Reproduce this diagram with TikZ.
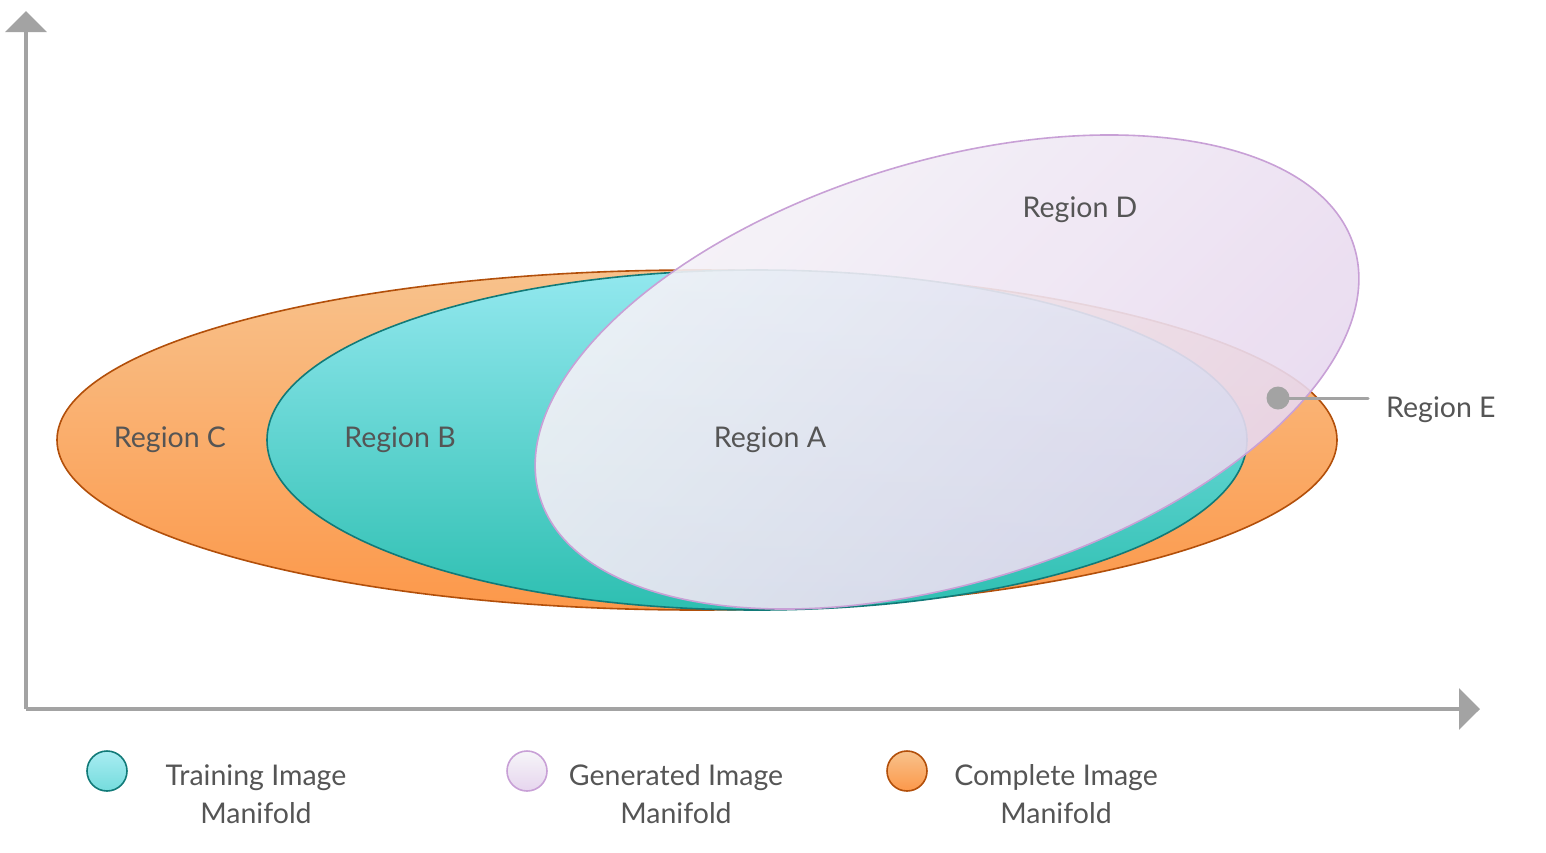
\documentclass[tikz,border=0pt]{standalone}
\usepackage{fontspec}
\setmainfont{Lato}
\usetikzlibrary{shapes.geometric,arrows.meta}
\definecolor{orTop}{HTML}{F8C28C}
\definecolor{orBot}{HTML}{FC984A}
\definecolor{orEdge}{HTML}{B24F0A}
\definecolor{tlTop}{HTML}{93E8EF}
\definecolor{tlBot}{HTML}{2DBFB1}
\definecolor{tlEdge}{HTML}{117A78}
\definecolor{lvA}{HTML}{F6F5F8}
\definecolor{lvB}{HTML}{E6D5EE}
\definecolor{lvEdge}{HTML}{C8A0D6}
\definecolor{axgray}{HTML}{A3A3A3}
\definecolor{txt}{HTML}{555555}
\tikzset{
  lbl/.style={text=txt, font=\fontsize{28.5}{38}\selectfont, inner sep=0pt},
  axisline/.style={draw=axgray, line width=3.5pt, -{Triangle[width=41pt,length=21pt]}},
  orangeset/.style={ellipse, draw=orEdge, line width=1.6pt, top color=orTop, bottom color=orBot, inner sep=0pt},
  tealset/.style={ellipse, draw=tlEdge, line width=1.6pt, top color=tlTop, bottom color=tlBot, inner sep=0pt},
  lavset/.style={ellipse, draw=lvEdge, line width=1.6pt, left color=lvA, right color=lvB, fill opacity=0.9, inner sep=0pt},
}
\begin{document}
\begin{tikzpicture}[x=1pt,y=-1pt]
\useasboundingbox (0,0) rectangle (1546,852);
% axes
\coordinate (O) at (26,709);
\coordinate (Ytop) at (26,11);
\coordinate (Xend) at (1480,709);
\draw[axisline] (O) -- (Ytop);
\draw[axisline] (O) -- (Xend);
% manifolds
\node[orangeset, minimum width=1280pt, minimum height=340pt] (complete) at (697,440) {};
\node[tealset, minimum width=980pt, minimum height=340pt] (training) at (757,440) {};
\node[lavset, rotate=17.1, shading angle=45, minimum width=852pt, minimum height=421pt] (generated) at (947,372) {};
% labels
\node[lbl] (rc) at (170,440) {Region C};
\node[lbl] (rb) at (400,440) {Region B};
\node[lbl] (ra) at (770,440) {Region A};
\node[lbl] (rd) at (1080,210) {Region D};
\node[lbl, anchor=west] (re) at (1386,410) {Region E};
\node[circle, fill=axgray, minimum size=23pt, inner sep=0pt] (edot) at (1278,398) {};
\coordinate (eend) at (1368,398);
\draw[axgray, line width=3pt, line cap=round] (edot.center) -- (eend);
% legend
\node[circle, draw=tlEdge, line width=1.6pt, top color=tlTop!80!white, bottom color=tlTop!70!tlBot, minimum size=40pt, inner sep=0pt] (lg1) at (107,771) {};
\node[circle, draw=lvEdge, line width=1.6pt, top color=lvA, bottom color=lvB, minimum size=40pt, inner sep=0pt] (lg2) at (527,771) {};
\node[circle, draw=orEdge, line width=1.6pt, top color=orTop, bottom color=orBot, minimum size=40pt, inner sep=0pt] (lg3) at (907,771) {};
\node[lbl, align=center] (lt1) at (256,794) {Training Image\\Manifold};
\node[lbl, align=center] (lt2) at (676,794) {Generated Image\\Manifold};
\node[lbl, align=center] (lt3) at (1056,794) {Complete Image\\Manifold};
\end{tikzpicture}
\end{document}
